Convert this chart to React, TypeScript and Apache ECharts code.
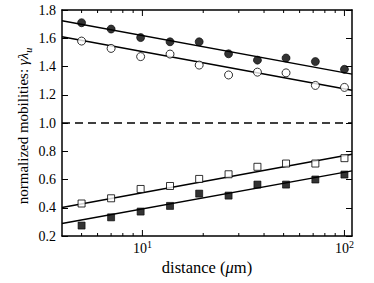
import React, { useEffect, useRef } from "react";
import * as echarts from "echarts";

const distances = [5, 7, 9.8, 13.7, 19.1, 26.7, 37.1, 51.4, 71.8, 100];
const filledCircles = [1.71, 1.665, 1.605, 1.575, 1.575, 1.49, 1.445, 1.46, 1.435, 1.38];
const openCircles = [1.58, 1.528, 1.47, 1.488, 1.41, 1.34, 1.36, 1.355, 1.266, 1.252];
const openSquares = [0.43, 0.467, 0.533, 0.554, 0.604, 0.637, 0.69, 0.713, 0.713, 0.751];
const filledSquares = [0.274, 0.332, 0.373, 0.413, 0.5, 0.486, 0.564, 0.564, 0.6, 0.635];

const fitX = [4, 109];
const fitFilledCircles = [1.724, 1.346];
const fitOpenCircles = [1.611, 1.232];
const fitOpenSquares = [0.401, 0.779];
const fitFilledSquares = [0.288, 0.661];
const referenceLevel = 1.0;

const majorXTicks = [10, 100];
const minorXTicks = [5, 6, 7, 8, 9, 20, 30, 40, 50, 60, 70, 80, 90];
const Y_MIN = 0.2;
const Y_MAX = 1.8;

const FONT = "'Liberation Serif', 'Times New Roman', serif";

export default function App() {
  const ref = useRef<HTMLDivElement>(null);
  useEffect(() => {
    document.body.style.margin = "0";
    const chart = echarts.init(ref.current!, null, { renderer: "svg" });
    const pairs = (xs: number[], ys: number[]) => xs.map((x, i) => [x, ys[i]]);
    const baseX = (position: string, labels: boolean, name?: boolean): any => ({
      type: "log",
      logBase: 10,
      min: 4,
      max: 109,
      position,
      axisLine: { show: true, onZero: false, lineStyle: { color: "#000", width: 1.5 } },
      axisTick: { show: false },
      axisLabel: labels
        ? {
            show: true,
            customValues: majorXTicks,
            margin: 3,
            formatter: (v: number) => `{b|10}{sup|${Math.round(Math.log10(v))}}`,
            rich: {
              b: { fontFamily: FONT, fontSize: 14, color: "#000", lineHeight: 16, verticalAlign: "bottom" },
              sup: { fontFamily: FONT, fontSize: 10, color: "#000", lineHeight: 16, verticalAlign: "top" },
            },
            fontFamily: FONT,
            fontSize: 14,
            color: "#000",
          }
        : { show: false },
      splitLine: { show: false },
      minorTick: { show: false },
      name: name ? "{t|distance (}{i|μ}{t|m)}" : "",
      nameLocation: "middle",
      nameMoveOverlap: false,
      nameGap: 23,
      nameTextStyle: {
        fontFamily: FONT,
        fontSize: 16.5,
        color: "#000",
        rich: {
          t: { fontFamily: FONT, fontSize: 16.5, color: "#000" },
          i: { fontFamily: FONT, fontSize: 16.5, fontStyle: "italic", color: "#000" },
        },
      },
    });
    const baseY = (position: string, labels: boolean): any => ({
      type: "value",
      min: Y_MIN,
      max: Y_MAX,
      interval: 0.2,
      position,
      axisLine: { show: true, onZero: false, lineStyle: { color: "#000", width: 1.5 } },
      axisTick: { show: true, inside: true, length: 6, lineStyle: { color: "#000", width: 1 } },
      axisLabel: labels
        ? { show: true, fontFamily: FONT, fontSize: 14, color: "#000", margin: 6, formatter: (v: number) => v.toFixed(1) }
        : { show: false },
      splitLine: { show: false },
    });
    const scatter = (data: number[], symbol: string, filled: boolean, size: number): any => ({
      type: "scatter",
      data: pairs(distances, data),
      symbol,
      symbolSize: size,
      z: 5,
      itemStyle: filled
        ? { color: "#000", borderColor: "#000", borderWidth: 0.8 }
        : { color: "#fff", borderColor: "#000", borderWidth: 1 },
    });
    const fit = (ys: number[]): any => ({
      type: "line",
      data: pairs(fitX, ys),
      symbol: "none",
      z: 3,
      lineStyle: { color: "#000", width: 1.5 },
    });
    const tickSeries = (ticks: number[], y: number, len: number, dir: number): any => ({
      type: "custom",
      silent: true,
      clip: false,
      z: 2,
      data: ticks.map((t) => [t, y]),
      renderItem: (_params: any, api: any) => {
        const p = api.coord([api.value(0), api.value(1)]);
        return {
          type: "line",
          shape: { x1: p[0], y1: p[1], x2: p[0], y2: p[1] + dir * len },
          style: { stroke: "#000", lineWidth: 1 },
        };
      },
    });
    chart.setOption({
      animation: false,
      grid: { left: 62, right: 22, top: 10, bottom: 47, containLabel: false, outerBoundsMode: "none" },
      xAxis: [baseX("bottom", true, true), baseX("top", false)],
      yAxis: [baseY("left", true), baseY("right", false)],
      graphic: [
        {
          type: "text",
          x: 23,
          y: 126,
          rotation: Math.PI / 2,
          style: {
            text: "{t|normalized mobilities: }{i|γλ}{sub|u}",
            align: "center",
            verticalAlign: "middle",
            fill: "#000",
            font: `15px ${FONT}`,
            rich: {
              t: { fontFamily: FONT, fontSize: 15, fill: "#000" },
              i: { fontFamily: FONT, fontSize: 15, fontStyle: "italic", fill: "#000" },
              sub: { fontFamily: FONT, fontSize: 10, fontStyle: "italic", fill: "#000", verticalAlign: "bottom", lineHeight: 20 },
            },
          },
        },
      ],
      series: [
        tickSeries(majorXTicks, Y_MIN, 6, -1),
        tickSeries(minorXTicks, Y_MIN, 3, -1),
        tickSeries(majorXTicks, Y_MAX, 6, 1),
        tickSeries(minorXTicks, Y_MAX, 3, 1),
        fit(fitFilledCircles),
        fit(fitOpenCircles),
        fit(fitOpenSquares),
        fit(fitFilledSquares),
        {
          type: "line",
          data: pairs(fitX, [referenceLevel, referenceLevel]),
          symbol: "none",
          z: 3,
          lineStyle: { color: "#000", width: 1.5, type: [8, 5] },
        },
        scatter(filledCircles, "circle", true, 8),
        scatter(openCircles, "circle", false, 8),
        scatter(openSquares, "rect", false, 7),
        scatter(filledSquares, "rect", true, 7),
      ],
    });
    return () => chart.dispose();
  }, []);
  return <div ref={ref} style={{ width: 374, height: 283 }} />;
}
